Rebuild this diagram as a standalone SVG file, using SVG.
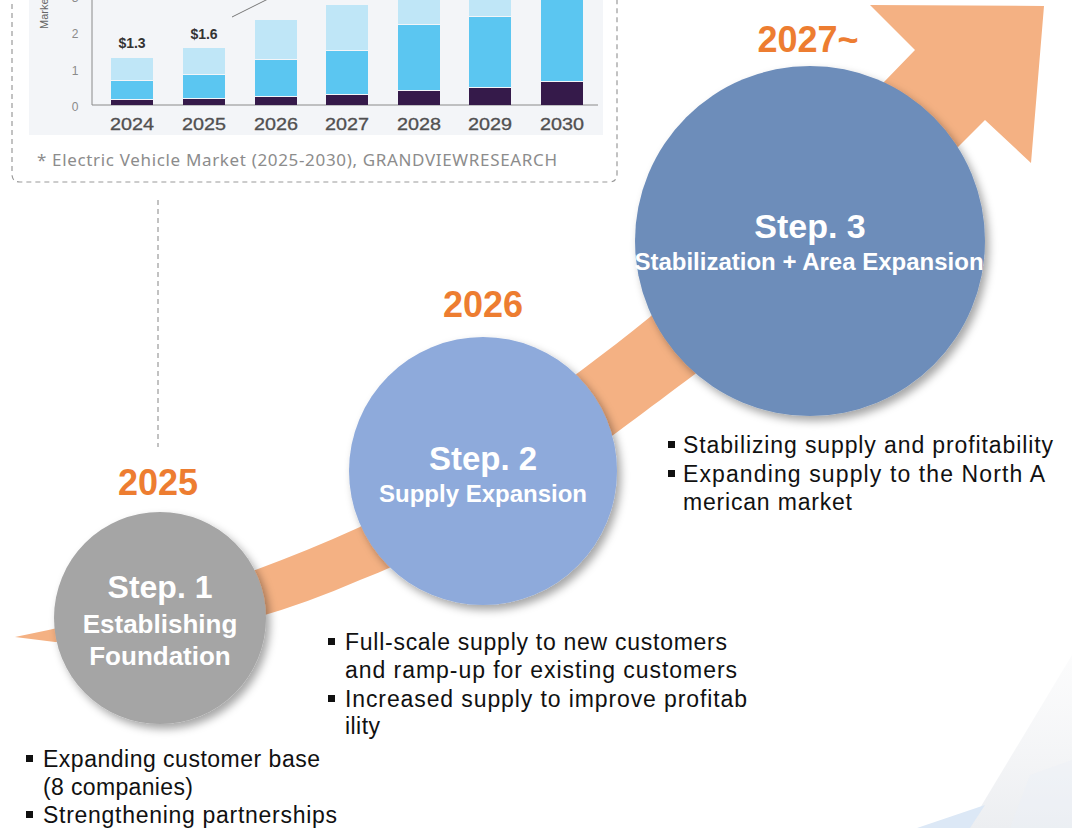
<svg xmlns="http://www.w3.org/2000/svg" width="1072" height="828" viewBox="0 0 1072 828">
  <defs>
    <style>
      .lt{fill:#bfe6f7}
      .md{fill:#5bc6f1}
      .dk{fill:#351a4a}
      .ax{font-family:"Liberation Sans",Arial,sans-serif;font-size:12px;fill:#8a8a8a;text-anchor:middle}
      .yr{font-family:"Liberation Sans",Arial,sans-serif;font-size:17px;fill:#505050;text-anchor:middle;stroke:#505050;stroke-width:0.3}
      .val{font-family:"Liberation Sans",Arial,sans-serif;font-weight:bold;font-size:14px;fill:#333;text-anchor:middle}
      .year{font-family:"Liberation Sans",Arial,sans-serif;font-weight:bold;font-size:36px;fill:#ed7d31;text-anchor:middle}
      .step{font-family:"Liberation Sans",Arial,sans-serif;font-weight:bold;fill:#fff;text-anchor:middle}
      .blt{font-family:"Liberation Sans",Arial,sans-serif;font-size:23px;fill:#111}
      .dash{fill:none;stroke:#9a9a9a;stroke-width:1.2;stroke-dasharray:5 4}
    </style>
    <filter id="sh" x="-20%" y="-20%" width="150%" height="150%">
      <feDropShadow dx="4" dy="5" stdDeviation="4" flood-color="#000" flood-opacity="0.35"/>
    </filter>
    <linearGradient id="decoG" x1="0" y1="0" x2="0" y2="1">
      <stop offset="0" stop-color="#f3f4f6" stop-opacity="0.3"/>
      <stop offset="1" stop-color="#eceef1"/>
    </linearGradient>
  </defs>

  <rect width="1072" height="828" fill="#fff"/>

  <!-- corner decoration -->
  <g id="decor">
    <polygon points="1072,655 1072,828 968,828" fill="url(#decoG)"/>
    <polygon points="917,828 985,805 970,828" fill="#dce8f6"/>
    <polygon points="1030,775 1072,760 1072,828 1010,828" fill="#eaf0f8" opacity="0.4"/>
  </g>

  <!-- market chart panel -->
  <g id="chart">
    <path class="dash" d="M12,-5 V174 Q12,182 20,182 H609 Q617,182 617,174 V-5"/>
    <rect x="29" y="-5" width="574" height="140" fill="#f3f5f8"/>
    <line x1="92" y1="0" x2="92" y2="105" stroke="#8a8a8a" stroke-width="1"/>
    <line x1="92" y1="105" x2="598" y2="105" stroke="#8a8a8a" stroke-width="1"/>
    <text class="ax" x="75" y="111">0</text>
    <text class="ax" x="75" y="75">1</text>
    <text class="ax" x="75" y="38">2</text>
    <text class="ax" x="75" y="2">3</text>
    <text x="48" y="29" transform="rotate(-90 48 29)" font-family="'Liberation Sans',Arial,sans-serif" font-size="11" fill="#666">Market</text>

    <rect class="lt" x="111" y="58" width="42" height="22"/>
    <rect class="md" x="111" y="81" width="42" height="18"/>
    <rect class="dk" x="111" y="100" width="42" height="5"/>

    <rect class="lt" x="183" y="48" width="42" height="26"/>
    <rect class="md" x="183" y="75" width="42" height="23"/>
    <rect class="dk" x="183" y="99" width="42" height="6"/>

    <rect class="lt" x="255" y="20" width="42" height="39"/>
    <rect class="md" x="255" y="60" width="42" height="36"/>
    <rect class="dk" x="255" y="97" width="42" height="8"/>

    <rect class="lt" x="326" y="5" width="42" height="45"/>
    <rect class="md" x="326" y="51" width="42" height="43"/>
    <rect class="dk" x="326" y="95" width="42" height="10"/>

    <rect class="lt" x="398" y="-10" width="42" height="34"/>
    <rect class="md" x="398" y="25" width="42" height="65"/>
    <rect class="dk" x="398" y="91" width="42" height="14"/>

    <rect class="lt" x="469" y="-10" width="42" height="26"/>
    <rect class="md" x="469" y="17" width="42" height="70"/>
    <rect class="dk" x="469" y="88" width="42" height="17"/>

    <rect class="md" x="541" y="-10" width="42" height="91"/>
    <rect class="dk" x="541" y="82" width="42" height="23"/>

    <text class="val" x="132" y="48">$1.3</text>
    <text class="val" x="204" y="39">$1.6</text>
    <line x1="232" y1="17" x2="268" y2="-1" stroke="#777" stroke-width="1"/>

    <text class="yr" x="132" y="130" textLength="44" lengthAdjust="spacingAndGlyphs">2024</text>
    <text class="yr" x="204" y="130" textLength="44" lengthAdjust="spacingAndGlyphs">2025</text>
    <text class="yr" x="276" y="130" textLength="44" lengthAdjust="spacingAndGlyphs">2026</text>
    <text class="yr" x="347" y="130" textLength="44" lengthAdjust="spacingAndGlyphs">2027</text>
    <text class="yr" x="419" y="130" textLength="44" lengthAdjust="spacingAndGlyphs">2028</text>
    <text class="yr" x="490" y="130" textLength="44" lengthAdjust="spacingAndGlyphs">2029</text>
    <text class="yr" x="562" y="130" textLength="44" lengthAdjust="spacingAndGlyphs">2030</text>

    <text x="37" y="166" font-family="'Noto Sans',sans-serif" font-size="17" fill="#8c8c8c" textLength="520">* Electric Vehicle Market (2025-2030), GRANDVIEWRESEARCH</text>
  </g>

  <!-- connectors -->
  <g id="connectors">
    <line class="dash" x1="158" y1="200" x2="158" y2="447"/>
    <path id="growth-arrow" fill="#f4b183"
          d="M15,637 Q200,600 360,527 C450,465 560,390 650,317 L883,83 L915,50 L870,5 L1044,6 L1031,163 L985,120 L958,147 C800,300 700,370 620,430 C540,490 450,545 360,580 Q200,650 55,642 Z"/>
  </g>

  <!-- step 1 -->
  <g id="step1">
    <text class="year" x="158" y="495">2025</text>
    <circle cx="160" cy="618" r="106" fill="#a5a5a5" filter="url(#sh)"/>
    <text class="step" x="160" y="598" font-size="32">Step. 1</text>
    <text class="step" x="160" y="633" font-size="26">Establishing</text>
    <text class="step" x="160" y="665" font-size="26">Foundation</text>
    <rect x="26" y="755" width="7" height="7" fill="#111"/>
    <text class="blt" x="43" y="767" textLength="277">Expanding customer base</text>
    <text class="blt" x="43" y="795" textLength="150">(8 companies)</text>
    <rect x="26" y="811" width="7" height="7" fill="#111"/>
    <text class="blt" x="43" y="823" textLength="294">Strengthening partnerships</text>
  </g>

  <!-- step 2 -->
  <g id="step2">
    <text class="year" x="483" y="317">2026</text>
    <circle cx="483" cy="471" r="134" fill="#8eaadb" filter="url(#sh)"/>
    <text class="step" x="483" y="470" font-size="33">Step. 2</text>
    <text class="step" x="483" y="502" font-size="24">Supply Expansion</text>
    <rect x="328" y="638" width="7" height="7" fill="#111"/>
    <text class="blt" x="345" y="650" textLength="382">Full-scale supply to new customers</text>
    <text class="blt" x="345" y="678" textLength="392">and ramp-up for existing customers</text>
    <rect x="328" y="695" width="7" height="7" fill="#111"/>
    <text class="blt" x="345" y="707" textLength="402">Increased supply to improve profitab</text>
    <text class="blt" x="345" y="734" textLength="35">ility</text>
  </g>

  <!-- step 3 -->
  <g id="step3">
    <text class="year" x="808" y="52">2027~</text>
    <circle cx="810" cy="241" r="175" fill="#6d8dba" filter="url(#sh)"/>
    <text class="step" x="810" y="238" font-size="34">Step. 3</text>
    <text class="step" x="809" y="270" font-size="24">Stabilization + Area Expansion</text>
    <rect x="668" y="441" width="7" height="7" fill="#111"/>
    <text class="blt" x="683" y="453" textLength="370">Stabilizing supply and profitability</text>
    <rect x="668" y="470" width="7" height="7" fill="#111"/>
    <text class="blt" x="683" y="482" textLength="362">Expanding supply to the North A</text>
    <text class="blt" x="683" y="510" textLength="169">merican market</text>
  </g>
</svg>
